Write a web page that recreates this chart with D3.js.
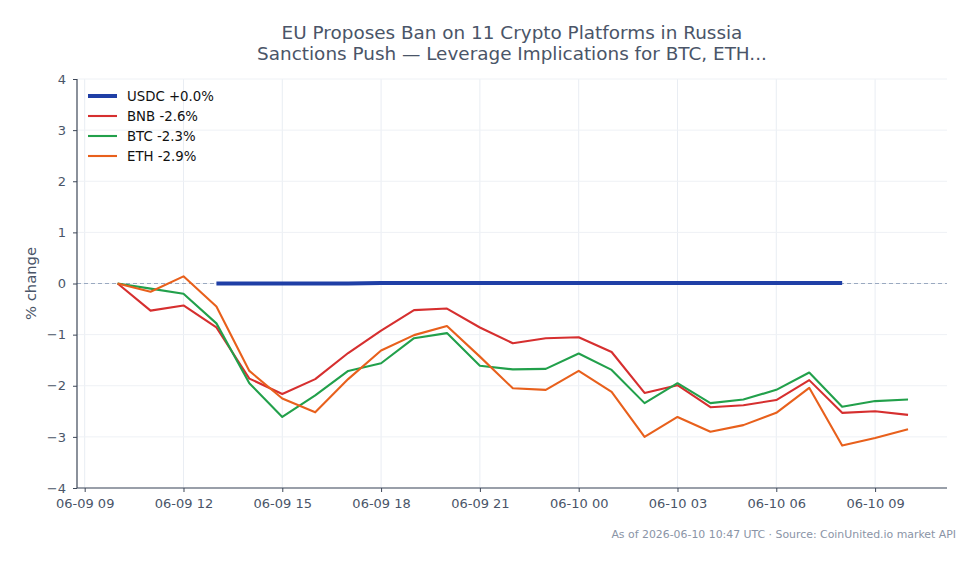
<!DOCTYPE html>
<html>
<head>
<meta charset="utf-8">
<script src="https://cdn.jsdelivr.net/npm/d3@7"></script>
<style>
  html, body { margin: 0; padding: 0; background: #fff; }
  svg { display: block; font-family: "DejaVu Sans", sans-serif; }
</style>
</head>
<body>
<div id="chart"></div>
<script>
// hourly timestamps, 06-09 10:00 .. 06-10 10:00 UTC
const hours = [
  "2026-06-09T10:00", "2026-06-09T11:00", "2026-06-09T12:00", "2026-06-09T13:00",
  "2026-06-09T14:00", "2026-06-09T15:00", "2026-06-09T16:00", "2026-06-09T17:00",
  "2026-06-09T18:00", "2026-06-09T19:00", "2026-06-09T20:00", "2026-06-09T21:00",
  "2026-06-09T22:00", "2026-06-09T23:00", "2026-06-10T00:00", "2026-06-10T01:00",
  "2026-06-10T02:00", "2026-06-10T03:00", "2026-06-10T04:00", "2026-06-10T05:00",
  "2026-06-10T06:00", "2026-06-10T07:00", "2026-06-10T08:00", "2026-06-10T09:00",
  "2026-06-10T10:00"
];

const bnb = [0, -0.53, -0.43, -0.86, -1.86, -2.16, -1.87, -1.36, -0.92, -0.52, -0.49, -0.86,
  -1.17, -1.07, -1.05, -1.34, -2.14, -1.99, -2.42, -2.38, -2.28, -1.89, -2.53, -2.50, -2.57];
const btc = [0, -0.10, -0.20, -0.78, -1.95, -2.61, -2.19, -1.71, -1.56, -1.07, -0.97, -1.61,
  -1.68, -1.67, -1.37, -1.69, -2.34, -1.95, -2.34, -2.27, -2.08, -1.74, -2.41, -2.30, -2.27];
const eth = [0, -0.16, 0.14, -0.45, -1.71, -2.25, -2.52, -1.87, -1.31, -1.01, -0.83, -1.43,
  -2.05, -2.08, -1.71, -2.12, -3.00, -2.61, -2.90, -2.77, -2.53, -2.04, -3.17, -3.02, -2.85];
// USDC only reported 06-09 13:00 .. 06-10 08:00
const usdcHours = hours.slice(3, 23);
const usdc = [0, 0, 0, 0, 0, 0.01, 0.01, 0.01, 0.01, 0.01, 0.01, 0.01, 0.01, 0.01, 0.01, 0.01,
  0.01, 0.01, 0.01, 0.01];

const seriesNames = ["USDC +0.0%", "BNB -2.6%", "BTC -2.3%", "ETH -2.9%"];
const seriesColors = ["#1f3fa6", "#d62f2f", "#22a04b", "#e8601c"];
const seriesWidths = [4, 2.1, 2.1, 2.1];

const yTicks = [-4, -3, -2, -1, 0, 1, 2, 3, 4];
const titleLines = ["EU Proposes Ban on 11 Crypto Platforms in Russia",
  "Sanctions Push \u2014 Leverage Implications for BTC, ETH..."];
const footnote = "As of 2026-06-10 10:47 UTC \u00b7 Source: CoinUnited.io market API";

const width = 979, height = 564;
const margin = { top: 79, right: 32, bottom: 76, left: 77 };
const iw = width - margin.left - margin.right;
const ih = height - margin.top - margin.bottom;

const parse = d3.utcParse("%Y-%m-%dT%H:%M");
const x = d3.scaleUtc()
  .domain([parse("2026-06-09T08:46"), parse("2026-06-10T11:11")])
  .range([0, iw]);
const y = d3.scaleLinear().domain([-4, 4]).range([ih, 0]);

const svg = d3.select("#chart").append("svg")
  .attr("width", width).attr("height", height);

const g = svg.append("g").attr("transform", `translate(${margin.left},${margin.top})`);

const xTicks = d3.utcHour.every(3).range(parse("2026-06-09T09:00"), parse("2026-06-10T10:00"));

// grid
g.append("g").selectAll("line.vg").data(xTicks).enter().append("line")
  .attr("x1", d => x(d)).attr("x2", d => x(d)).attr("y1", 0).attr("y2", ih)
  .attr("stroke", "#e9edf3").attr("stroke-width", 1);
g.append("g").selectAll("line.hg").data(yTicks).enter().append("line")
  .attr("x1", 0).attr("x2", iw).attr("y1", d => y(d)).attr("y2", d => y(d))
  .attr("stroke", "#eef1f5").attr("stroke-width", 1);

// zero reference
g.append("line")
  .attr("x1", 0).attr("x2", iw).attr("y1", y(0)).attr("y2", y(0))
  .attr("stroke", "#9aa9c0").attr("stroke-width", 1.1).attr("stroke-dasharray", "4,3");

// lines
const line = d3.line().x(d => x(d[0])).y(d => y(d[1]));
const allSeries = [
  d3.zip(usdcHours.map(parse), usdc),
  d3.zip(hours.map(parse), bnb),
  d3.zip(hours.map(parse), btc),
  d3.zip(hours.map(parse), eth)
];
allSeries.forEach((s, i) => {
  g.append("path").datum(s)
    .attr("d", line)
    .attr("fill", "none")
    .attr("stroke", seriesColors[i])
    .attr("stroke-width", seriesWidths[i])
    .attr("stroke-linejoin", "round");
});

// axes
const axisColor = "#3d4758";
const xAxis = g.append("g").attr("transform", `translate(0,${ih})`)
  .call(d3.axisBottom(x).tickValues(xTicks).tickFormat(d3.utcFormat("%m-%d %H")).tickSize(4).tickPadding(7));
const yAxis = g.append("g")
  .call(d3.axisLeft(y).tickValues(yTicks).tickFormat(d => d < 0 ? "\u2212" + Math.abs(d) : d).tickSize(4).tickPadding(7));
[xAxis, yAxis].forEach(a => {
  a.select(".domain").attr("stroke", axisColor).attr("stroke-width", 1.2);
  a.selectAll(".tick line").attr("stroke", axisColor);
  a.selectAll(".tick text").attr("fill", "#4a5568").attr("font-size", "13px")
    .attr("font-family", "DejaVu Sans, sans-serif");
});
// matplotlib-style spines: domain without end caps
xAxis.select(".domain").attr("d", `M0,0H${iw}`);
yAxis.select(".domain").attr("d", `M0,0V${ih}`);

// y label
svg.append("text")
  .attr("transform", `translate(36,${margin.top + y(0)}) rotate(-90)`)
  .attr("text-anchor", "middle")
  .attr("fill", "#4a5568").attr("font-size", "14.8px")
  .text("% change");

// title
svg.append("g").selectAll("text").data(titleLines).enter().append("text")
  .attr("x", margin.left + iw / 2)
  .attr("y", (d, i) => 39 + i * 21)
  .attr("text-anchor", "middle")
  .attr("fill", "#4a5568").attr("font-size", "18.4px")
  .text(d => d);

// legend
const lg = g.append("g").attr("transform", "translate(11,17)");
seriesNames.forEach((name, i) => {
  const row = lg.append("g").attr("transform", `translate(0,${i * 20})`);
  row.append("line").attr("x1", 0).attr("x2", 29).attr("y1", 0).attr("y2", 0)
    .attr("stroke", seriesColors[i]).attr("stroke-width", seriesWidths[i]);
  row.append("text").attr("x", 39).attr("y", 0).attr("dy", "0.35em")
    .attr("fill", "#111").attr("font-size", "13.3px").text(name);
});

// footnote
svg.append("text")
  .attr("x", 956).attr("y", 538)
  .attr("text-anchor", "end")
  .attr("fill", "#8a94a6").attr("font-size", "10.9px")
  .text(footnote);
</script>
</body>
</html>
